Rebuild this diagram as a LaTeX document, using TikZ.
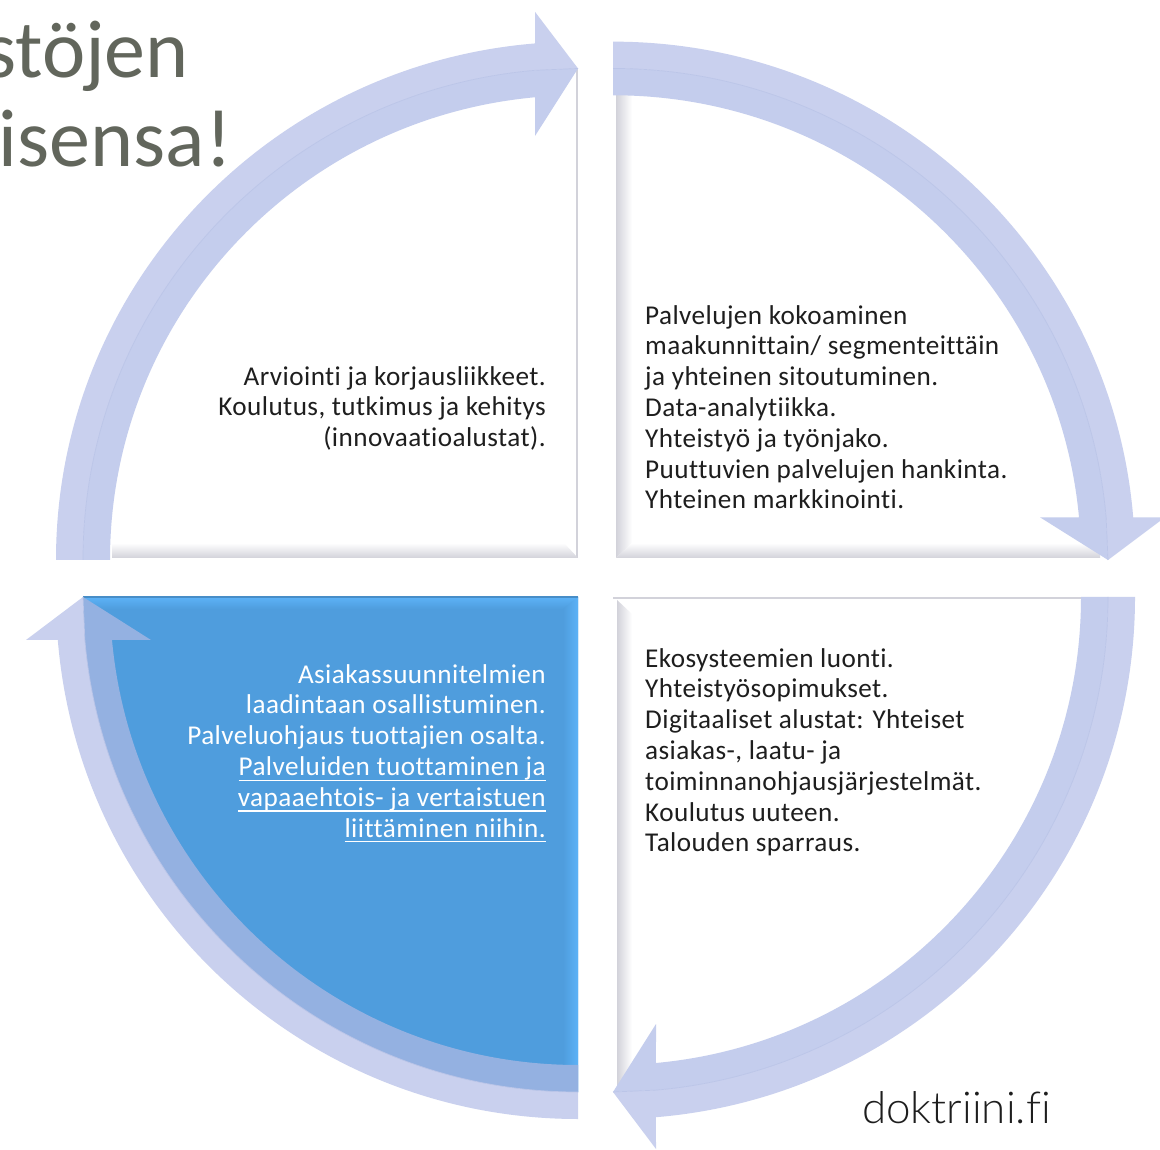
\documentclass[tikz,border=0pt]{standalone}
\usepackage{fontspec}
\setmainfont[LetterSpace=1.6,Ligatures=NoCommon]{Carlito}
\newfontfamily\titlefont{Carlito}
\newfontfamily\thinfont[Ligatures=NoCommon]{Lato Light}
\usetikzlibrary{calc}
\definecolor{arrowlight}{HTML}{C9D0EE}
\definecolor{arrowmid}{HTML}{C4CDED}
\definecolor{arrowonblue}{HTML}{94B1E1}
\definecolor{seam}{HTML}{BBC5E8}
\definecolor{blueface}{HTML}{4F9DDD}
\definecolor{bluebright}{HTML}{5CB2F7}
\definecolor{bevelgray}{HTML}{D2D2DA}
\definecolor{titlegray}{HTML}{62665C}
\definecolor{textblack}{HTML}{1E1E1E}
\newcommand{\sline}[1]{\setbox0\hbox{#1}\rlap{\rule[-4.5pt]{\wd0}{1pt}}\box0}
\tikzset{
  quadtext/.style={font=\fontsize{23.2pt}{26.3pt}\selectfont, text=textblack, inner sep=0pt},
  quadtextr/.style={quadtext, align=right, anchor=north east},
  quadtextl/.style={quadtext, align=left, anchor=north west},
  titletext/.style={font=\titlefont\fontsize{70pt}{70pt}\selectfont, text=titlegray, inner sep=0pt, anchor=base east},
  seamline/.style={draw=seam, line width=0.6pt},
}
\newcommand{\ringarrow}[6]{%
  \begin{scope}[shift={(#1,#2)},yscale=#6,rotate=#3]
    \fill[#5] (90:495) -- (90:522) arc[start angle=90,end angle=4.72,radius=522]
      -- (552,43) -- (495,0) -- (4.98:495) arc[start angle=4.98,end angle=90,radius=495] -- cycle;
    \fill[#4] (90:495) -- (90:468) arc[start angle=90,end angle=5.27,radius=468]
      -- (427,43) -- (495,0) -- (4.98:495) arc[start angle=4.98,end angle=90,radius=495] -- cycle;
    \draw[seamline] (495,0) -- (4.98:495) arc[start angle=4.98,end angle=90,radius=495];
  \end{scope}}
\begin{document}
\begin{tikzpicture}[x=0.03cm,y=0.03cm]
\useasboundingbox (0,0) rectangle (1160,1149);
\fill[white] (0,0) rectangle (1160,1149);
% title, cut by the picture's left edge
\begin{scope}
  \clip (0,0) rectangle (1160,1149);
  \node[titletext] (titleA) at (189,1071) {stöjen};
  \node[titletext] (titleB) at (232,982) {isensa!};
\end{scope}
% upper left quadrant
\draw[bevelgray,line width=1.2pt] (577,1081) -- (577,591);
\shade[top color=white,bottom color=bevelgray] (112,606) -- (564,606) -- (578,591) -- (112,591) -- cycle;
% upper right quadrant
\shade[left color=bevelgray,right color=white] (616,1080) -- (632,1070) -- (632,606) -- (616,591) -- cycle;
\shade[top color=white,bottom color=bevelgray] (632,606) -- (1100,606) -- (1100,591) -- (616,591) -- cycle;
% lower right quadrant
\draw[bevelgray,line width=1.2pt] (613,551) -- (1135,551);
\shade[left color=bevelgray,right color=white] (617,549) -- (632,535) -- (632,70) -- (617,62) -- cycle;
% lower left quadrant: the blue sector
\fill[blueface] (578,552) -- (83,552) arc[start angle=180,end angle=270,radius=495] -- cycle;
\begin{scope}
  \clip (578,552) -- (83,552) arc[start angle=180,end angle=270,radius=495] -- cycle;
  \shade[top color=bluebright,bottom color=blueface] (83,552) -- (578,552) -- (564,540) -- (83,540) -- cycle;
  \shade[left color=blueface,right color=bluebright] (563,540) -- (578,552) -- (578,50) -- (563,50) -- cycle;
\end{scope}
\draw[blueface!90!black,line width=1pt] (83,552) -- (578,552);
% ring of four arrows
\ringarrow{613}{589}{0}{arrowmid}{arrowlight}{0.993}
\ringarrow{613}{552}{-90}{arrowmid}{arrowlight}{1}
\ringarrow{578}{552}{-180}{arrowonblue}{arrowlight}{1}
\ringarrow{578}{589}{-270}{arrowmid}{arrowlight}{0.993}
% texts
\node[quadtextr] (tUL) at (546,783) {Arviointi ja korjausliikkeet.\\Koulutus, tutkimus ja kehitys\\(innovaatioalustat).};
\node[quadtextl] (tUR) at (645,844) {Palvelujen kokoaminen\\maakunnittain/ segmenteittäin\\ja yhteinen sitoutuminen.\\Data-analytiikka.\\Yhteistyö ja työnjako.\\Puuttuvien palvelujen hankinta.\\Yhteinen markkinointi.};
\node[quadtextl] (tLR) at (645,501) {Ekosysteemien luonti.\\Yhteistyösopimukset.\\Digitaaliset alustat: Yhteiset\\asiakas-, laatu- ja\\toiminnanohjausjärjestelmät.\\Koulutus uuteen.\\Talouden sparraus.};
\node[quadtextr,text=white] (tLL) at (546,485) {Asiakassuunnitelmien\\laadintaan osallistuminen.\\Palveluohjaus tuottajien osalta.\\\sline{Palveluiden tuottaminen ja}\\\sline{vapaaehtois- ja vertaistuen}\\\sline{liittäminen niihin.}};
\node[font=\thinfont\fontsize{37.5pt}{37.5pt}\selectfont,text=textblack,inner sep=0pt,anchor=base east] (logo) at (1051,26) {doktriini.fi};
\end{tikzpicture}
\end{document}
